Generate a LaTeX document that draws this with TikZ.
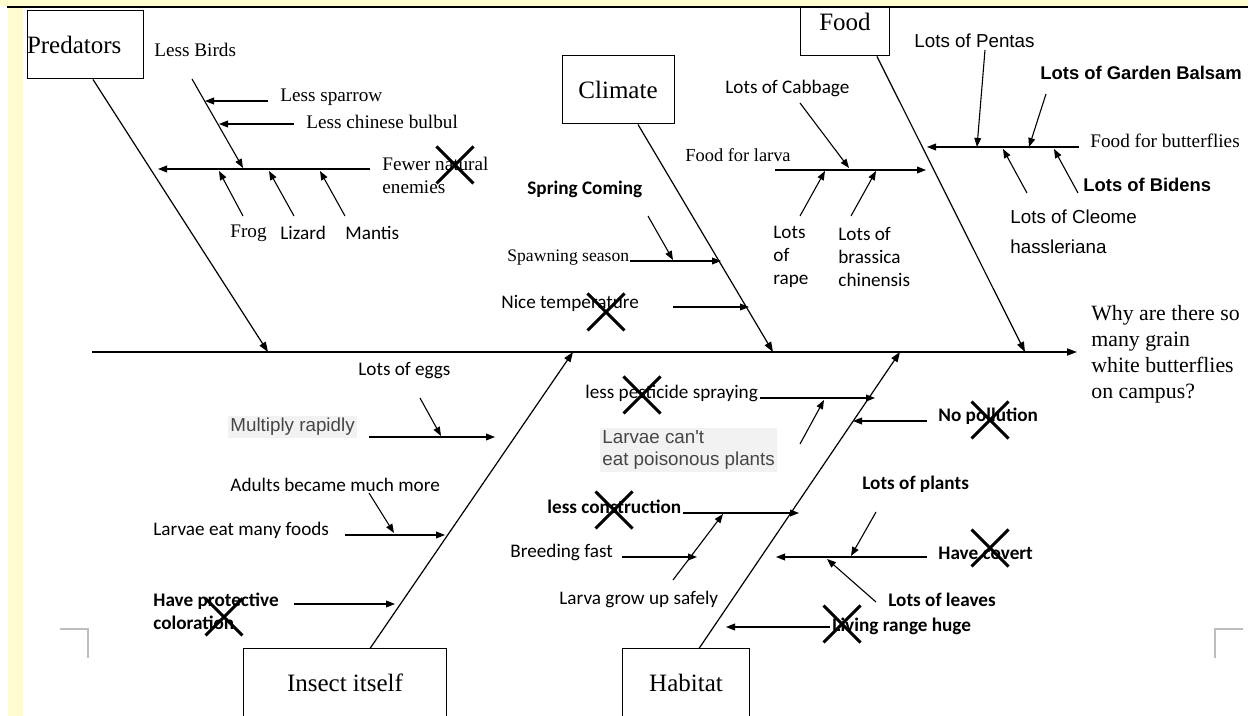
\documentclass[tikz,border=0pt]{standalone}
\usepackage{fontspec}
\setmainfont{Liberation Serif}
\newfontfamily\calfont{Carlito}
\newfontfamily\arifont{Liberation Sans}
\usetikzlibrary{arrows.meta, shapes.misc}
\definecolor{pageyellow}{RGB}{255,253,208}
\definecolor{hlgray}{RGB}{242,242,242}
\definecolor{hltext}{RGB}{70,70,70}
\definecolor{markgray}{RGB}{190,190,190}
\tikzset{
  catbox/.style={rectangle, draw=black, line width=0.5pt, inner sep=0pt,
    minimum height=34pt, font=\fontsize{12.5}{15}\selectfont},
  bone/.style={-{Triangle[length=5pt,width=3.6pt]}, line width=0.6pt},
  twig/.style={-{Triangle[length=4.5pt,width=3.4pt]}, line width=0.55pt},
  xmark/.style={cross out, draw=black, line width=1.5pt, minimum size=17pt, inner sep=0pt}
}

\begin{document}
\begin{tikzpicture}[x=0.5pt, y=-0.5pt,
  serif/.style={anchor=west, inner sep=0pt, align=left, font=\fontsize{9.6}{11.5}\selectfont},
  cal/.style={anchor=west, inner sep=0pt, align=left, font=\calfont\fontsize{9.6}{11.6}\selectfont},
  calb/.style={cal, font=\calfont\bfseries\fontsize{9.6}{11.6}\selectfont},
  ari/.style={anchor=west, inner sep=0pt, align=left, font=\arifont\fontsize{9.4}{11.2}\selectfont},
  arib/.style={ari, font=\arifont\bfseries\fontsize{9.2}{11}\selectfont},
  hilite/.style={ari, fill=hlgray, text=hltext, inner sep=1pt}]

  \useasboundingbox (0,0) rectangle (1255,716);

  % Category boxes
  \node[catbox, text width=58pt, align=left] (pred) at (85,45) {Predators};
  \node[catbox, minimum width=56pt] (clim) at (618,90) {Climate};
  \node[catbox, minimum width=44.5pt] (food) at (845,22) {Food};
  \node[catbox, minimum width=101.5pt] (insect) at (345,683) {Insect itself};
  \node[catbox, minimum width=63.5pt] (hab) at (686,683) {Habitat};

  % Effect
  \node[serif, font=\fontsize{10.9}{13}\selectfont] (why) at (1091,354)
    {Why are there so\\many grain\\white butterflies\\on campus?};

  % Spine and main bones
  \coordinate (tail) at (92,352);
  \coordinate (head) at (1077,352);
  \coordinate (predhit) at (268,352);
  \coordinate (climhit) at (773,352);
  \coordinate (foodhit) at (1025,352);
  \coordinate (insecthit) at (573,352);
  \coordinate (habhit) at (900,352);

  \draw[bone] (tail) -- (head);
  \draw[bone] ([xshift=4pt]pred.south) -- (predhit);
  \draw[bone] ([xshift=10pt]clim.south) -- (climhit);
  \draw[bone] ([xshift=16pt]food.south) -- (foodhit);
  \draw[bone] ([xshift=12.5pt]insect.north) -- (insecthit);
  \draw[bone] ([xshift=6.5pt]hab.north) -- (habhit);

  % Predators
  \node[serif] (birds) at (154,50) {Less Birds};
  \node[serif] (sparrow) at (280,97) {Less sparrow};
  \node[serif] (bulbul) at (306,122) {Less chinese bulbul};
  \node[serif] (enemies) at (382,175) {Fewer natural\\enemies};
  \node[serif] (frog) at (230,233) {Frog};
  \node[cal] (lizard) at (280,233) {Lizard};
  \node[cal] (mantis) at (345,233) {Mantis};

  \coordinate (birds1) at (192,79);  \coordinate (birds2) at (243,168);
  \coordinate (enem1) at (370,169);  \coordinate (enem2) at (158,169);
  \coordinate (spar1) at (268,101);  \coordinate (spar2) at (205,101);
  \coordinate (bulb1) at (294,124);  \coordinate (bulb2) at (219,124);
  \coordinate (frog1) at (243,216);  \coordinate (frog2) at (219,171);
  \coordinate (liz1) at (294,216);   \coordinate (liz2) at (269,171);
  \coordinate (mant1) at (345,216);  \coordinate (mant2) at (320,171);

  \draw[twig] (birds1) -- (birds2);
  \draw[twig] (enem1) -- (enem2);
  \draw[twig] (spar1) -- (spar2);
  \draw[twig] (bulb1) -- (bulb2);
  \draw[twig] (frog1) -- (frog2);
  \draw[twig] (liz1) -- (liz2);
  \draw[twig] (mant1) -- (mant2);

  % Climate
  \node[calb] (spring) at (527,189) {Spring Coming};
  \node[serif, font=\fontsize{8.8}{10.5}\selectfont] (spawn) at (507,258) {Spawning season};
  \node[cal] (nicetemp) at (501,303) {Nice temperature};

  \coordinate (spring1) at (648,216); \coordinate (spring2) at (673,260);
  \coordinate (spawn1) at (630,261);  \coordinate (spawn2) at (721,261);
  \coordinate (nice1) at (673,307);   \coordinate (nice2) at (749,307);

  \draw[twig] (spring1) -- (spring2);
  \draw[twig] (spawn1) -- (spawn2);
  \draw[twig] (nice1) -- (nice2);

  % Food
  \node[cal] (cabbage) at (725,88) {Lots of Cabbage};
  \node[serif, font=\fontsize{9.2}{11}\selectfont] (larva) at (685,155) {Food for larva};
  \node[cal] (rape) at (773,257) {Lots\\of\\rape};
  \node[cal] (brassica) at (838,257) {Lots of\\brassica\\chinensis};
  \node[ari] (pentas) at (914,41) {Lots of Pentas};
  \node[arib] (balsam) at (1040,73) {Lots of Garden Balsam};
  \node[serif] (flies) at (1090,141) {Food for butterflies};
  \node[arib] (bidens) at (1083,185) {Lots of Bidens};
  \node[ari] (cleome) at (1010,232) {Lots of Cleome\\[4pt]hassleriana};

  \coordinate (cabb1) at (800,103);  \coordinate (cabb2) at (849,168);
  \coordinate (larva1) at (775,170); \coordinate (larva2) at (926,170);
  \coordinate (rape1) at (800,216);  \coordinate (rape2) at (825,171);
  \coordinate (bras1) at (851,216);  \coordinate (bras2) at (876,171);
  \coordinate (pent1) at (985,50);   \coordinate (pent2) at (977,147);
  \coordinate (bals1) at (1046,94);  \coordinate (bals2) at (1029,147);
  \coordinate (flies1) at (1079,147); \coordinate (flies2) at (927,147);
  \coordinate (cleo1) at (1027,193); \coordinate (cleo2) at (1003,149);
  \coordinate (bid1) at (1078,193);  \coordinate (bid2) at (1054,149);

  \draw[twig] (cabb1) -- (cabb2);
  \draw[twig] (larva1) -- (larva2);
  \draw[twig] (rape1) -- (rape2);
  \draw[twig] (bras1) -- (bras2);
  \draw[twig] (pent1) -- (pent2);
  \draw[twig] (bals1) -- (bals2);
  \draw[twig] (flies1) -- (flies2);
  \draw[twig] (cleo1) -- (cleo2);
  \draw[twig] (bid1) -- (bid2);

  % Insect itself
  \node[cal] (eggs) at (358,371) {Lots of eggs};
  \node[hilite] (multiply) at (228,427) {Multiply rapidly};
  \node[cal] (adults) at (230,485) {Adults became much more};
  \node[cal] (manyfood) at (153,530) {Larvae eat many foods};
  \node[calb] (protect) at (153,611) {Have protective\\coloration};

  \coordinate (eggs1) at (420,398);  \coordinate (eggs2) at (441,436);
  \coordinate (mult1) at (369,437);  \coordinate (mult2) at (495,437);
  \coordinate (adul1) at (369,493);  \coordinate (adul2) at (394,533);
  \coordinate (many1) at (345,535);  \coordinate (many2) at (445,535);
  \coordinate (prot1) at (294,604);  \coordinate (prot2) at (395,604);

  \draw[twig] (eggs1) -- (eggs2);
  \draw[twig] (mult1) -- (mult2);
  \draw[twig] (adul1) -- (adul2);
  \draw[twig] (many1) -- (many2);
  \draw[twig] (prot1) -- (prot2);

  % Habitat
  \node[cal] (pest) at (585,393) {less pesticide spraying};
  \node[hilite] (poison) at (600,450) {Larvae can't\\eat poisonous plants};
  \node[calb] (constr) at (547,507) {less construction};
  \node[cal] (breed) at (510,552) {Breeding fast};
  \node[cal] (safe) at (559,599) {Larva grow up safely};
  \node[calb] (pollut) at (938,416) {No pollution};
  \node[calb] (plants) at (862,484) {Lots of plants};
  \node[calb] (covert) at (938,553) {Have covert};
  \node[calb] (leaves) at (888,600) {Lots of leaves};
  \node[calb] (range) at (832,626) {Living range huge};

  \coordinate (pest1) at (760,398);   \coordinate (pest2) at (875,398);
  \coordinate (pois1) at (800,444);   \coordinate (pois2) at (824,400);
  \coordinate (cons1) at (683,513);   \coordinate (cons2) at (799,513);
  \coordinate (breed1) at (622,557);  \coordinate (breed2) at (697,557);
  \coordinate (safe1) at (673,580);   \coordinate (safe2) at (723,514);
  \coordinate (poll1) at (927,421);   \coordinate (poll2) at (853,421);
  \coordinate (plan1) at (876,512);   \coordinate (plan2) at (851,556);
  \coordinate (cov1) at (927,557);    \coordinate (cov2) at (776,557);
  \coordinate (leaf1) at (876,602);   \coordinate (leaf2) at (827,559);
  \coordinate (rang1) at (830,627);   \coordinate (rang2) at (726,627);

  \draw[twig] (pest1) -- (pest2);
  \draw[twig] (pois1) -- (pois2);
  \draw[twig] (cons1) -- (cons2);
  \draw[twig] (breed1) -- (breed2);
  \draw[twig] (safe1) -- (safe2);
  \draw[twig] (poll1) -- (poll2);
  \draw[twig] (plan1) -- (plan2);
  \draw[twig] (cov1) -- (cov2);
  \draw[twig] (leaf1) -- (leaf2);
  \draw[twig] (rang1) -- (rang2);

  % Crossed-out causes
  \node[xmark] (x1) at (455,165) {};
  \node[xmark] (x2) at (606,312) {};
  \node[xmark] (x3) at (642,395) {};
  \node[xmark] (x4) at (614,510) {};
  \node[xmark] (x5) at (224,617) {};
  \node[xmark] (x6) at (990,420) {};
  \node[xmark] (x7) at (990,548) {};
  \node[xmark] (x8) at (842,624) {};

  % Page edge and corner marks
  \fill[pageyellow] (0,0) rectangle (1248,6);
  \fill[pageyellow] (8,6) rectangle (23,716);
  \draw[line width=1pt] (7,7) -- (1248,7);
  \draw[markgray, line width=0.6pt] (60,629) -- (88,629) -- (88,658);
  \draw[markgray, line width=0.6pt] (1243,629) -- (1215,629) -- (1215,658);

\end{tikzpicture}
\end{document}
